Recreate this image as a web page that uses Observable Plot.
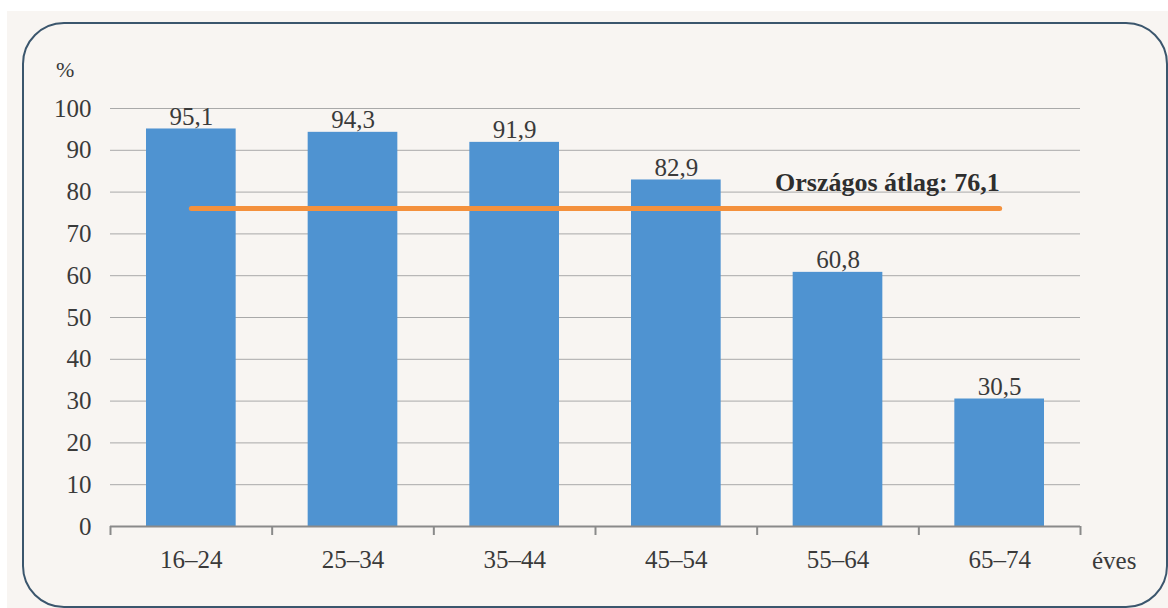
<!DOCTYPE html>
<html>
<head>
<meta charset="utf-8">
<script src="https://cdn.jsdelivr.net/npm/d3@7"></script>
<script src="https://cdn.jsdelivr.net/npm/@observablehq/plot@0.6"></script>
<style>
  html, body { margin: 0; padding: 0; background: #ffffff; }
  #wrap { position: relative; width: 1168px; height: 608px; overflow: hidden; }
  #bg { position: absolute; left: 7px; top: 11px; right: 0; bottom: 0; background: #f8f5f2; }
  #card { position: absolute; left: 22px; top: 22px; width: 1142px; height: 582px;
          border: 2px solid #3b566d; border-radius: 42px; background: #f8f5f2; }
  #chart { position: absolute; left: 0; top: 0; }
  .lbl { position: absolute; font-family: "Liberation Serif", serif; font-size: 25px; color: #3a3a3a; }
</style>
</head>
<body>
<div id="wrap">
  <div id="bg"></div>
  <div id="card"></div>
  <div id="chart"></div>
  <div class="lbl" style="left:56px; top:57px; font-size:22px;">%</div>
  <div class="lbl" style="left:1092px; top:547px;">éves</div>
</div>
<script>
const categories = ["16–24", "25–34", "35–44", "45–54", "55–64", "65–74"];
const values = [95.1, 94.3, 91.9, 82.9, 60.8, 30.5];
const valueLabels = ["95,1", "94,3", "91,9", "82,9", "60,8", "30,5"];
const average = 76.1;
const averageLabel = "Országos átlag: 76,1";
const yTicks = [0, 10, 20, 30, 40, 50, 60, 70, 80, 90, 100];

const data = categories.map((c, i) => ({cat: c, i, value: values[i], label: valueLabels[i]}));
const avgData = categories.map((c, i) => ({i, y: average}));
const boundaries = d3.range(categories.length + 1);

const font = "'Liberation Serif', serif";

const chart = Plot.plot({
  width: 1168,
  height: 608,
  marginLeft: 110,
  marginRight: 88,
  marginTop: 108,
  marginBottom: 82,
  style: {background: "transparent", fontFamily: font, fontSize: "25px", color: "#3a3a3a", overflow: "visible"},
  x: {type: "linear", domain: [0, categories.length], axis: null},
  y: {domain: [0, 100], axis: null},
  marks: [
    Plot.gridY(yTicks.filter(d => d > 0), {stroke: "#a9a9a9", strokeOpacity: 1, strokeWidth: 1}),
    Plot.axisY(yTicks, {tickSize: 0, tickPadding: 19, fontSize: 25, fill: "#3a3a3a", fontFamily: font, label: null}),
    Plot.rectY(data, {x1: "i", x2: d => d.i + 1, y: "value", fill: "#4f93d1", insetLeft: 36, insetRight: 36}),
    Plot.ruleY([0], {stroke: "#8a8a8a", strokeWidth: 2}),
    Plot.axisX(boundaries, {tickSize: 9, stroke: "#8a8a8a", strokeWidth: 2, tickFormat: () => "", label: null}),
    Plot.axisX(data.map(d => d.i + 0.5), {tickSize: 0, tickPadding: 24, tickFormat: d => categories[Math.round(d - 0.5)], fontSize: 25, fill: "#3a3a3a", fontFamily: font, label: null}),
    Plot.text(data, {x: d => d.i + 0.5, y: "value", text: "label", lineAnchor: "bottom", dy: -4, fontSize: 25, fill: "#3a3a3a", fontFamily: font}),
    Plot.lineY(avgData, {x: d => d.i + 0.5, y: "y", stroke: "#f4913d", strokeWidth: 5, strokeLinecap: "round"}),
    Plot.text([averageLabel], {x: categories.length - 0.5, y: average, text: d => d, textAnchor: "end", lineAnchor: "bottom", dy: -17, fontSize: 26, fontWeight: "bold", fill: "#2e2e2e", fontFamily: font})
  ]
});
document.getElementById("chart").appendChild(chart);
</script>
</body>
</html>
